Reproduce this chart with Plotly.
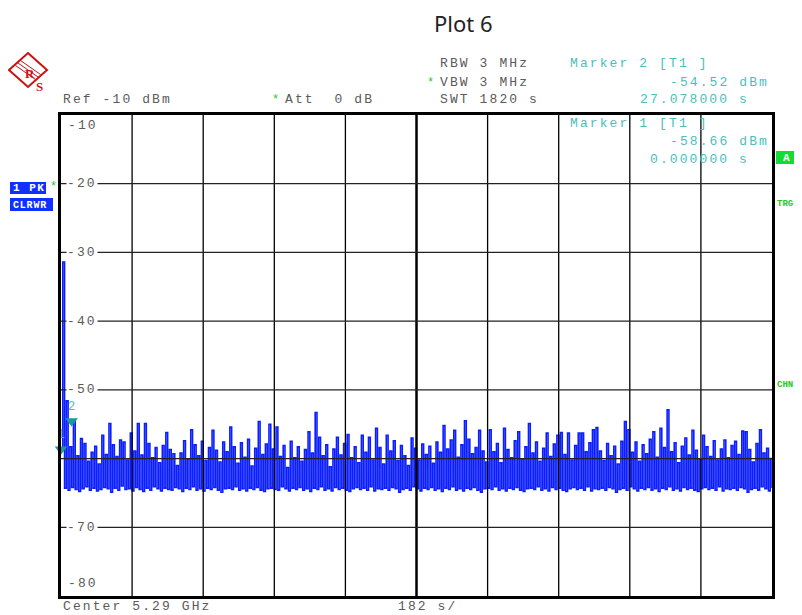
import numpy as np
import plotly.graph_objects as go

sweep_time_s = 1820.0
y_min_db, y_max_db = -80, -10
y_tick_values = [-10, -20, -30, -40, -50, -70, -80]
y_tick_labels = ["-10", "-20", "-30", "-40", "-50", "-70", "-80"]

start_db = -58.66
peaks_db = [
    -31.4, -51.6, -58.3, -54.52, -59.6, -57.1, -57.8, -60.4, -59.1, -58.2,
    -60.8, -56.6, -59.4, -54.9, -58.0, -59.7, -57.3, -57.6, -60.2, -56.3,
    -58.9, -54.9, -59.5, -54.9, -57.8, -59.9, -58.4, -60.6, -58.1, -56.2,
    -58.7, -59.3, -61.0, -59.2, -57.4, -60.1, -55.8, -58.0, -59.6, -57.5,
    -60.3, -58.4, -55.9, -58.8, -60.5, -57.6, -59.0, -55.4, -58.3, -60.7,
    -57.7, -59.8, -57.2, -61.1, -58.5, -54.6, -59.4, -57.9, -55.0, -58.6,
    -55.4, -59.7, -58.1, -61.3, -57.5, -59.9, -58.3, -60.4, -58.7, -56.1,
    -59.2, -53.3, -56.9, -59.6, -58.0, -61.2, -58.6, -56.9, -59.5, -57.8,
    -56.5, -59.9, -58.3, -60.6, -56.6, -59.1, -56.9, -60.2, -55.6, -58.4,
    -60.8, -56.6, -58.9, -57.4, -60.3, -58.1, -59.6, -61.0, -57.0, -58.5,
    -60.2, -57.9, -59.4, -58.2, -60.7, -57.6, -59.1, -55.2, -58.6, -57.3,
    -55.9, -59.8, -58.0, -54.5, -57.2, -59.3, -58.4, -55.9, -58.9, -60.5,
    -55.8, -59.0, -57.8, -60.6, -55.6, -58.7, -59.9, -57.4, -56.1, -60.1,
    -58.3, -54.9, -59.2, -57.6, -60.4, -58.5, -56.3, -59.7, -57.9, -56.6,
    -56.2, -59.4, -56.3, -60.2, -58.1, -56.3, -56.3, -59.0, -57.7, -55.8,
    -55.5, -58.9, -60.3, -57.8, -59.6, -58.2, -60.8, -57.5, -54.6, -55.8,
    -59.1, -57.6, -60.4, -58.0, -59.3, -57.2, -56.1, -59.8, -55.6, -58.4,
    -52.9, -59.0, -57.7, -60.6, -58.2, -57.0, -59.5, -55.9, -58.8, -60.1,
    -56.6, -58.3, -59.7, -57.4, -60.2, -58.6, -57.3, -59.9, -58.1, -57.5,
    -59.4, -56.0, -56.1, -58.7, -60.5, -57.8, -55.8, -59.2, -58.5, -60.0,
]
floors_db = [
    -64.3, -64.6, -64.2, -64.5, -64.8, -64.4, -64.1, -64.6, -64.3, -64.7,
    -64.5, -64.2, -64.4, -64.9, -64.3, -64.6, -64.0, -64.5, -64.4, -64.7,
    -64.2, -64.5, -64.8, -64.3, -64.6, -64.1, -64.4, -64.7, -64.3, -64.5,
    -64.6, -64.2, -64.4, -64.8, -64.3, -64.5, -64.1, -64.6, -64.4, -64.7,
    -64.3, -64.5, -64.2, -64.6, -64.9, -64.4, -64.3, -64.5, -64.1, -64.6,
    -64.4, -64.7, -64.3, -64.5, -64.2, -64.6, -64.8, -64.4, -64.3, -64.5,
    -64.6, -64.1, -64.4, -64.7, -64.3, -64.5, -64.2, -64.6, -64.4, -64.8,
    -64.3, -64.5, -64.1, -64.6, -64.4, -64.7, -64.2, -64.5, -64.3, -64.6,
    -64.8, -64.4, -64.2, -64.5, -64.3, -64.6, -64.1, -64.7, -64.4, -64.5,
    -64.3, -64.6, -64.2, -64.4, -64.9, -64.5, -64.3, -64.6, -64.1, -64.4,
    -64.7, -64.3, -64.5, -64.2, -64.6, -64.4, -64.8, -64.3, -64.5, -64.1,
    -64.6, -64.4, -64.7, -64.3, -64.5, -64.2, -64.6, -64.9, -64.4, -64.3,
    -64.5, -64.1, -64.6, -64.4, -64.7, -64.3, -64.5, -64.2, -64.6, -64.8,
    -64.4, -64.3, -64.5, -64.1, -64.6, -64.4, -64.7, -64.2, -64.5, -64.3,
    -64.6, -64.8, -64.4, -64.2, -64.5, -64.3, -64.6, -64.1, -64.7, -64.4,
    -64.5, -64.3, -64.6, -64.2, -64.4, -64.9, -64.5, -64.3, -64.6, -64.1,
    -64.4, -64.7, -64.3, -64.5, -64.2, -64.6, -64.4, -64.8, -64.3, -64.5,
    -64.1, -64.6, -64.4, -64.7, -64.2, -64.5, -64.3, -64.6, -64.8, -64.4,
    -64.2, -64.5, -64.3, -64.6, -64.1, -64.7, -64.4, -64.5, -64.3, -64.6,
    -64.2, -64.4, -64.9, -64.5, -64.3, -64.6, -64.1, -64.4, -64.7, -64.3,
]
marker_names = ["1", "2"]
marker_times_s = [0.0, 27.078]
marker_levels_db = [-58.66, -54.52]

# ---------------- build trace ----------------
trace_db = [start_db]
for p, f in zip(peaks_db, floors_db):
    trace_db += [p, f]
trace_t = np.linspace(0, sweep_time_s, len(trace_db))

# ---------------- layout helpers ----------------
OFF = 8                      # page body margin
WIN_W, WIN_H = 802, 615
W, H = WIN_W - OFF, WIN_H - OFF
L, R, T, B = 61, 772, 115, 596   # plot area in window pixels
def fx(p):
    return (p - L) / (R - L)
def fy(p):
    return (B - p) / (B - T)

MONO = "Liberation Mono"
GRAY = "#5a5a5a"
CYAN = "#4dbdbd"
GREEN = "#22cc22"
BLUE = "#0a1eff"

def sp(s, ls=2.1):
    return f'<span style="letter-spacing:{ls}px">{s}</span>'

fig = go.Figure()
fig.add_trace(go.Scatter(
    x=trace_t, y=trace_db, mode="lines", line=dict(color=BLUE, width=1.6, shape="hv"),
    showlegend=False, hoverinfo="skip"))
fig.add_trace(go.Scatter(
    x=marker_times_s, y=marker_levels_db, mode="markers+text", text=marker_names,
    textposition="top center", textfont=dict(family=MONO, size=12, color=CYAN),
    marker=dict(symbol="triangle-down", size=11, color="#1a9a9a"),
    cliponaxis=False, showlegend=False, hoverinfo="skip"))

ann = []
def text(px, py, s, color=GRAY, size=13, anchor="left", bg=None, ls=2.1, bold=False, family=MONO):
    t = sp(s, ls) if ls else s
    if bold:
        t = "<b>" + t + "</b>"
    d = dict(x=fx(px), y=fy(py), xref="paper", yref="paper", text=t, showarrow=False,
             xanchor=anchor, yanchor="middle", font=dict(family=family, size=size, color=color))
    if bg:
        d.update(bgcolor=bg, borderpad=0)
    ann.append(d)

# header texts
text(61, 99, "Ref -10 dBm")
text(283, 99, "Att  0 dB")
text(438, 64, "RBW 3 MHz")
text(438, 82, "VBW 3 MHz")
text(438, 100, "SWT 1820 s")
text(568, 64, "Marker 2 [T1 ]", color=CYAN)
text(668, 82, "-54.52 dBm", color=CYAN)
text(638, 100, "27.078000 s", color=CYAN)
text(568, 124, "Marker 1 [T1 ]", color=CYAN)
text(668, 142, "-58.66 dBm", color=CYAN)
text(648, 160, "0.000000 s", color=CYAN)
# stars
for sx, sy in [(275, 100), (430, 83), (53, 187)]:
    ann.append(dict(x=fx(sx), y=fy(sy), xref="paper", yref="paper", text="*",
                    showarrow=False, xanchor="center", yanchor="middle",
                    font=dict(family=MONO, size=12, color=GREEN)))
# bottom
text(61, 606, "Center 5.29 GHz")
text(396, 606, "182 s/")
# y tick labels inside the grid
tick_py = {-10: 125, -80: 583}
for v, lab in zip(y_tick_values, y_tick_labels):
    py = tick_py.get(v, B - (v - y_min_db) / (y_max_db - y_min_db) * (B - T))
    text(66, py, lab, bg="white" if v not in tick_py else None)

shapes = []
# grid drawn above the trace (as on the analyser screen)
for k in range(1, 10):
    shapes.append(dict(type="line", xref="x", yref="paper", x0=k * sweep_time_s / 10,
                       x1=k * sweep_time_s / 10, y0=0, y1=1, layer="above",
                       line=dict(color="black", width=2.5 if k == 5 else 1.3)))
for v in range(y_min_db + 10, y_max_db, 10):
    shapes.append(dict(type="line", xref="paper", yref="y", x0=0, x1=1, y0=v, y1=v,
                       layer="above", line=dict(color="#222", width=1.3)))

def rect(x0, y0, x1, y1, color):
    shapes.append(dict(type="rect", xref="paper", yref="paper", x0=fx(x0), x1=fx(x1),
                       y0=fy(y1), y1=fy(y0), fillcolor=color, line=dict(width=0), layer="above"))
rect(10, 182, 46, 194, "#1030ff")
rect(10, 198, 53, 211, "#1030ff")
rect(776, 151, 802, 164, "#11dd33")
text(11, 188, "1 PK", color="white", size=11, ls=1.5, bold=True)
text(11, 205, "CLRWR", color="white", size=10, ls=0.8, bold=True)
text(787, 158, "A", color="white", size=11, anchor="center", bold=True)
text(775, 204, "TRG", color=GREEN, size=9, ls=0, bold=True)
text(775, 385, "CHN", color=GREEN, size=9, ls=0, bold=True)

# title
ann.append(dict(x=fx(463), y=fy(23), xref="paper", yref="paper", text="Plot 6", showarrow=False,
                xanchor="center", yanchor="middle", font=dict(family="Noto Sans", size=22, color="#222")))

# R&S logo
def path(pts, close=True):
    s = "M " + " L ".join(f"{fx(a):.5f},{fy(b):.5f}" for a, b in pts)
    return s + (" Z" if close else "")
shapes.append(dict(type="path", xref="paper", yref="paper",
                   path=path([(28, 53), (47, 70), (28, 87), (9, 70)]),
                   line=dict(color="#cc1111", width=2), fillcolor="white"))
for k in (-2.5, 0, 2.5):
    shapes.append(dict(type="path", xref="paper", yref="paper",
                       path=path([(18 + k, 63 - k), (38 + k, 77 - k)], close=False),
                       line=dict(color="#cc1111", width=1)))
ann.append(dict(x=fx(23), y=fy(64), xref="paper", yref="paper", text="<b>R</b>", showarrow=False,
                font=dict(family="Liberation Serif", size=13, color="#cc1111")))
ann.append(dict(x=fx(34), y=fy(77), xref="paper", yref="paper", text="<b>S</b>", showarrow=False,
                font=dict(family="Liberation Serif", size=13, color="#cc1111")))

fig.update_layout(
    width=W, height=H, margin=dict(l=L - OFF, r=WIN_W - R, t=T - OFF, b=WIN_H - B),
    paper_bgcolor="white", plot_bgcolor="white",
    annotations=ann, shapes=shapes, showlegend=False,
    xaxis=dict(range=[0, sweep_time_s], showticklabels=False, showgrid=False, zeroline=False,
               showline=True, linecolor="black", linewidth=2.5, mirror=True, ticks="",
               layer="above traces", fixedrange=True),
    yaxis=dict(range=[y_min_db, y_max_db], showticklabels=False, showgrid=False, zeroline=False,
               showline=True, linecolor="black", linewidth=2.5, mirror=True, ticks="",
               layer="above traces", fixedrange=True),
)
fig.write_html("out.html")
